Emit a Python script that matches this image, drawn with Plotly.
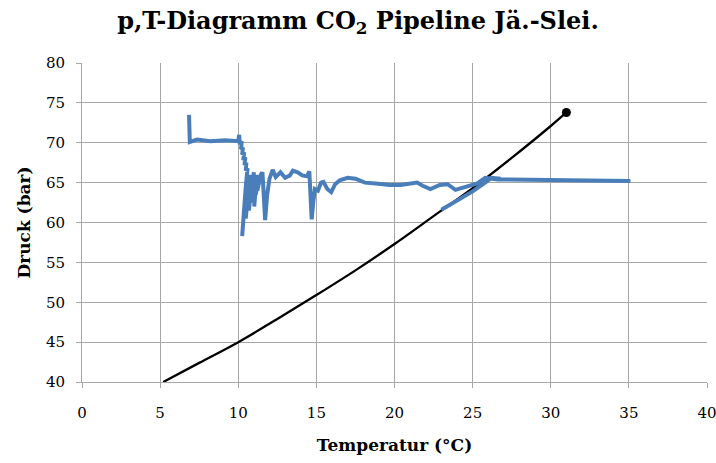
import plotly.graph_objects as go

# CO2 vapour pressure curve (saturation line) up to critical point
sat_T = [5.2, 7.5, 10.0, 12.5, 15.0, 17.5, 20.0, 22.5, 25.0, 27.5, 30.0, 31.0]
sat_p = [40.0, 42.4, 45.0, 47.9, 50.9, 54.0, 57.3, 60.8, 64.3, 68.1, 72.1, 73.8]

# measured pipeline operating points (temperature, pressure)
pipe_T = [6.85, 6.85, 6.9, 7.37, 8.2, 9.16, 10.0, 10.06, 10.1, 10.22, 10.18, 10.3,
          10.25, 10.38, 10.32, 10.45, 10.4, 10.52, 10.48, 10.6, 10.55,
          10.25, 10.4, 10.3, 10.5, 10.38, 10.6, 10.48, 10.7, 10.58, 10.8, 10.68,
          10.9, 10.8, 11.0, 10.92, 11.1, 11.02, 11.2, 11.12, 11.3, 11.22, 11.45,
          11.55, 11.72, 11.85, 12.0, 12.2, 12.4, 12.7, 13.0, 13.3, 13.5, 13.8,
          14.1, 14.4, 14.55, 14.65, 14.7, 14.8, 14.9, 15.1, 15.3, 15.45, 15.7,
          15.95, 16.2, 16.5, 17.0, 17.5, 18.1, 18.8, 19.3, 19.7, 20.4, 21.0,
          21.45, 21.8, 22.3, 22.9, 23.4, 23.9, 24.4, 24.9, 25.3, 25.8, 26.6, 35.1]
pipe_p = [73.5, 70.4, 70.1, 70.4, 70.2, 70.3, 70.2, 71.0, 69.8, 70.2, 69.2, 69.4,
          68.5, 68.8, 67.8, 68.2, 67.2, 67.5, 66.5, 66.8, 66.0,
          58.3, 63.5, 60.0, 65.0, 61.0, 65.8, 60.5, 65.0, 62.0, 66.0, 61.5,
          65.5, 62.5, 66.3, 63.0, 65.5, 62.0, 66.0, 63.5, 65.6, 64.0, 66.0,
          66.3, 60.3, 63.5, 65.5, 66.6, 65.7, 66.3, 65.6, 65.9, 66.5, 66.3,
          65.9, 65.8, 66.4, 62.0, 60.4, 62.5, 64.2, 64.0, 65.0, 65.1, 64.2,
          63.8, 64.8, 65.3, 65.6, 65.5, 65.0, 64.9, 64.8, 64.7, 64.7, 64.8,
          65.0, 64.6, 64.2, 64.7, 64.8, 64.1, 64.4, 64.6, 64.9, 65.6, 65.4, 65.2]

# second measured branch rising along the saturation line
branch_T = [23.0, 24.0, 25.0, 25.8, 26.2, 26.8]
branch_p = [61.6, 62.7, 63.9, 65.0, 65.6, 65.5]

title_text = "p,T-Diagramm CO<sub>2</sub> Pipeline Jä.-Slei."
x_title = "Temperatur (°C)"
y_title = "Druck (bar)"

FONT = "DejaVu Serif"
BLUE = "#4a7ebb"
GRID = "#a6a6a6"

fig = go.Figure()
fig.add_trace(go.Scatter(x=sat_T, y=sat_p, mode="lines", line=dict(color="black", width=2.3, shape="spline"),
                         showlegend=False, hoverinfo="skip"))
fig.add_trace(go.Scatter(x=[sat_T[-1]], y=[sat_p[-1]], mode="markers",
                         marker=dict(color="black", size=9), showlegend=False))
fig.add_trace(go.Scatter(x=pipe_T, y=pipe_p, mode="lines", line=dict(color=BLUE, width=4),
                         showlegend=False))
fig.add_trace(go.Scatter(x=branch_T, y=branch_p, mode="lines", line=dict(color=BLUE, width=4),
                         showlegend=False))

fig.update_layout(
    width=716, height=463,
    margin=dict(l=82, r=9, t=63, b=81, autoexpand=False),
    paper_bgcolor="white", plot_bgcolor="white",
    font=dict(family=FONT, color="black"),
    title=dict(text=title_text, x=0.5, xanchor="center", y=1 - 21 / 463, yanchor="middle",
               font=dict(family=FONT, size=24, color="black", weight="bold")),
)
fig.update_xaxes(range=[0, 40], tick0=0, dtick=5, showgrid=True, gridcolor=GRID, gridwidth=1,
                 showline=True, linecolor=GRID, linewidth=1, ticks="outside", ticklen=5,
                 tickcolor=GRID, tickfont=dict(family=FONT, size=15), zeroline=False,
                 ticklabelstandoff=12, ticklabeloverflow="allow", automargin=False,
                 title=dict(text=x_title, font=dict(family=FONT, size=17, weight="bold"), standoff=18))
fig.update_yaxes(range=[40, 80], tick0=40, dtick=5, showgrid=True, gridcolor=GRID, gridwidth=1,
                 showline=True, linecolor=GRID, linewidth=1, ticks="outside", ticklen=5,
                 tickcolor=GRID, tickfont=dict(family=FONT, size=15), zeroline=False,
                 ticklabelstandoff=8, ticklabeloverflow="allow", automargin=False,
                 title=dict(text=y_title, font=dict(family=FONT, size=17, weight="bold"), standoff=10))

fig.write_html("out.html", config={"displayModeBar": False},
               post_script="document.body.style.margin='0';document.body.style.overflow='hidden';")
